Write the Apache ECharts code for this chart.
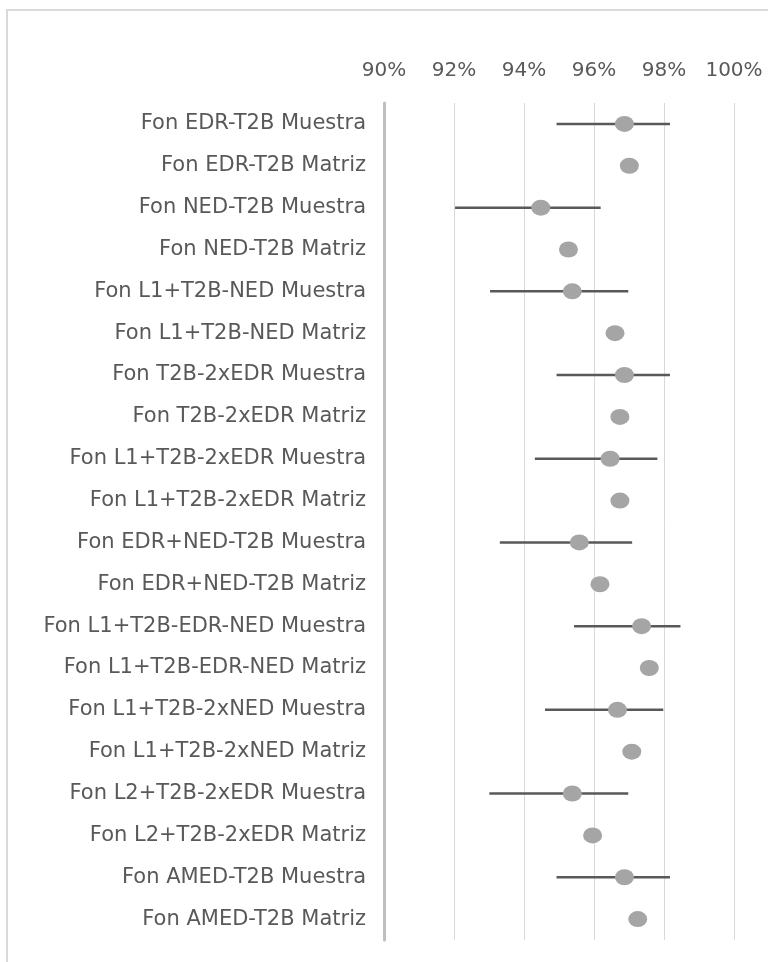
<!DOCTYPE html>
<html>
<head>
<meta charset="utf-8">
<style>
  html, body { margin: 0; padding: 0; background: #ffffff; }
  #chart { width: 768px; height: 962px; }
</style>
<script src="https://cdn.jsdelivr.net/npm/echarts@6/dist/echarts.min.js"></script>
</head>
<body>
<div id="chart"></div>
<script>
// Sample / matrix measurements (percent), top to bottom
const categories = [
  'Fon EDR-T2B Muestra',
  'Fon EDR-T2B Matriz',
  'Fon NED-T2B Muestra',
  'Fon NED-T2B Matriz',
  'Fon L1+T2B-NED Muestra',
  'Fon L1+T2B-NED Matriz',
  'Fon T2B-2xEDR Muestra',
  'Fon T2B-2xEDR Matriz',
  'Fon L1+T2B-2xEDR Muestra',
  'Fon L1+T2B-2xEDR Matriz',
  'Fon EDR+NED-T2B Muestra',
  'Fon EDR+NED-T2B Matriz',
  'Fon L1+T2B-EDR-NED Muestra',
  'Fon L1+T2B-EDR-NED Matriz',
  'Fon L1+T2B-2xNED Muestra',
  'Fon L1+T2B-2xNED Matriz',
  'Fon L2+T2B-2xEDR Muestra',
  'Fon L2+T2B-2xEDR Matriz',
  'Fon AMED-T2B Muestra',
  'Fon AMED-T2B Matriz'
];

const values = [
  96.87, 97.01, 94.48, 95.27, 95.38, 96.60, 96.87, 96.74, 96.46, 96.74,
  95.58, 96.17, 97.36, 97.58, 96.67, 97.08, 95.38, 95.96, 96.87, 97.25
];

// Interval bounds; null where no interval is shown
const lowBounds = [
  94.93, null, 92.03, null, 93.03, null, 94.93, null, 94.31, null,
  93.31, null, 95.43, null, 94.60, null, 93.01, null, 94.93, null
];
const highBounds = [
  98.17, null, 96.19, null, 96.98, null, 98.17, null, 97.81, null,
  97.09, null, 98.47, null, 97.98, null, 96.98, null, 98.17, null
];

const tickLabels = ['90%', '92%', '94%', '96%', '98%', '100%'];
const axisMin = 90, axisMax = 100, axisStep = 2;

const intervalData = [];
categories.forEach(function (c, i) {
  if (lowBounds[i] !== null) intervalData.push([lowBounds[i], highBounds[i], i]);
});

const chart = echarts.init(document.getElementById('chart'), null, { renderer: 'canvas' });

const labelFont = '"DejaVu Sans", "Liberation Sans", sans-serif';

chart.setOption({
  animation: false,
  backgroundColor: '#ffffff',
  graphic: [{
    type: 'rect',
    shape: { x: 7, y: 10, width: 800, height: 1000 },
    style: { fill: 'none', stroke: '#d9d9d9', lineWidth: 2 },
    silent: true,
    z: -10
  }],
  grid: { left: 384, right: 34, top: 103, bottom: 22, containLabel: false },
  xAxis: {
    type: 'value',
    position: 'top',
    min: axisMin,
    max: axisMax,
    interval: axisStep,
    axisLine: { show: false },
    axisTick: { show: false },
    splitLine: { show: true, lineStyle: { color: '#d9d9d9', width: 1 } },
    axisLabel: {
      color: '#595959',
      fontSize: 20,
      fontFamily: labelFont,
      margin: 22,
      formatter: function (v) {
        return tickLabels[Math.round((v - axisMin) / axisStep)];
      }
    }
  },
  yAxis: {
    type: 'category',
    data: categories,
    inverse: true,
    axisLine: { show: true, lineStyle: { color: '#bfbfbf', width: 3 } },
    axisTick: { show: false },
    splitLine: { show: false },
    axisLabel: {
      color: '#595959',
      fontSize: 21,
      fontFamily: labelFont,
      margin: 18,
      padding: [5, 0, 0, 0]
    }
  },
  series: [
    {
      type: 'custom',
      name: 'intervalo',
      data: intervalData,
      encode: { x: [0, 1], y: 2 },
      z: 2,
      renderItem: function (params, api) {
        const p1 = api.coord([api.value(0), api.value(2)]);
        const p2 = api.coord([api.value(1), api.value(2)]);
        return {
          type: 'line',
          shape: { x1: p1[0], y1: p1[1], x2: p2[0], y2: p2[1] },
          style: { stroke: '#595959', lineWidth: 2.5 }
        };
      }
    },
    {
      type: 'scatter',
      name: 'valor',
      data: values.map(function (v, i) { return [v, i]; }),
      symbol: 'circle',
      symbolSize: [19, 16],
      itemStyle: { color: '#a5a5a5', opacity: 1 },
      z: 3
    }
  ]
});
</script>
</body>
</html>
